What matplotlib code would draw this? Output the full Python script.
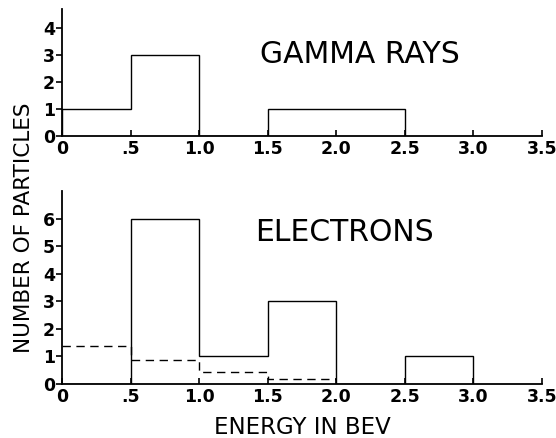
import numpy as np
import matplotlib
matplotlib.use('Agg')
import matplotlib.pyplot as plt

# ##############################################################################
# histogram data (energy in BeV)
gamma_edges = [0, 0.5, 1.0, 1.5, 2.5]
gamma_counts = [1, 3, 0, 1]

electron_edges = [0, 0.5, 1.0, 1.5, 2.0, 2.5, 3.0]
electron_counts = [0, 6, 1, 3, 0, 1]

# dashed expected curve for electrons
expected_edges = [0, 0.5, 1.0, 1.5, 2.0]
expected_counts = [1.38, 0.87, 0.44, 0.18]

xticks = [0, 0.5, 1.0, 1.5, 2.0, 2.5, 3.0, 3.5]
xticklabels = ['0', '.5', '1.0', '1.5', '2.0', '2.5', '3.0', '3.5']

plt.rcParams['font.family'] = ['DejaVu Sans']


def styleAxis(ax, ymax, yticks):
    ax.set_xlim(0, 3.5)
    ax.set_ylim(0, ymax)
    for s in ['top', 'right']:
        ax.spines[s].set_visible(False)
    for s in ['left', 'bottom']:
        ax.spines[s].set_linewidth(1.3)
    ax.spines['bottom'].set_bounds(0, 3.5)
    ax.set_xticks(xticks)
    ax.set_xticklabels(xticklabels, fontsize=12.5, fontweight='bold')
    ax.set_yticks(yticks)
    ax.set_yticklabels([str(v) for v in yticks], fontsize=12.5, fontweight='bold')
    ax.tick_params(axis='x', direction='in', length=4, width=1.2, pad=3)
    ax.tick_params(axis='y', direction='out', length=4, width=1.2, pad=1)


fig = plt.figure(figsize=(5.56, 4.38), dpi=100)

# top panel: gamma rays
ax1 = fig.add_axes([0.1115, 0.6895, 0.863, 0.29])
ax1.stairs(gamma_counts, gamma_edges, color='black', linewidth=1.0)
styleAxis(ax1, 4.7, [0, 1, 2, 3, 4])
ax1.text(2.17, 3.0, 'GAMMA RAYS', fontsize=21.5, ha='center', va='center')

# bottom panel: electrons
ax2 = fig.add_axes([0.1115, 0.1233, 0.863, 0.4395])
ax2.stairs(electron_counts, electron_edges, color='black', linewidth=1.0)
ax2.stairs(expected_counts, expected_edges, baseline=None, color='black',
           linewidth=1.0, linestyle=(0, (6, 4)))
styleAxis(ax2, 7.0, [0, 1, 2, 3, 4, 5, 6])
ax2.text(2.06, 5.5, 'ELECTRONS', fontsize=21.5, ha='center', va='center')
ax2.set_xlabel('ENERGY IN BEV', fontsize=16.5, labelpad=7)

fig.text(0.043, 1 - 228 / 438, 'NUMBER OF PARTICLES', rotation=90,
         fontsize=15.5, ha='center', va='center')

plt.savefig('out.png', dpi=100)
